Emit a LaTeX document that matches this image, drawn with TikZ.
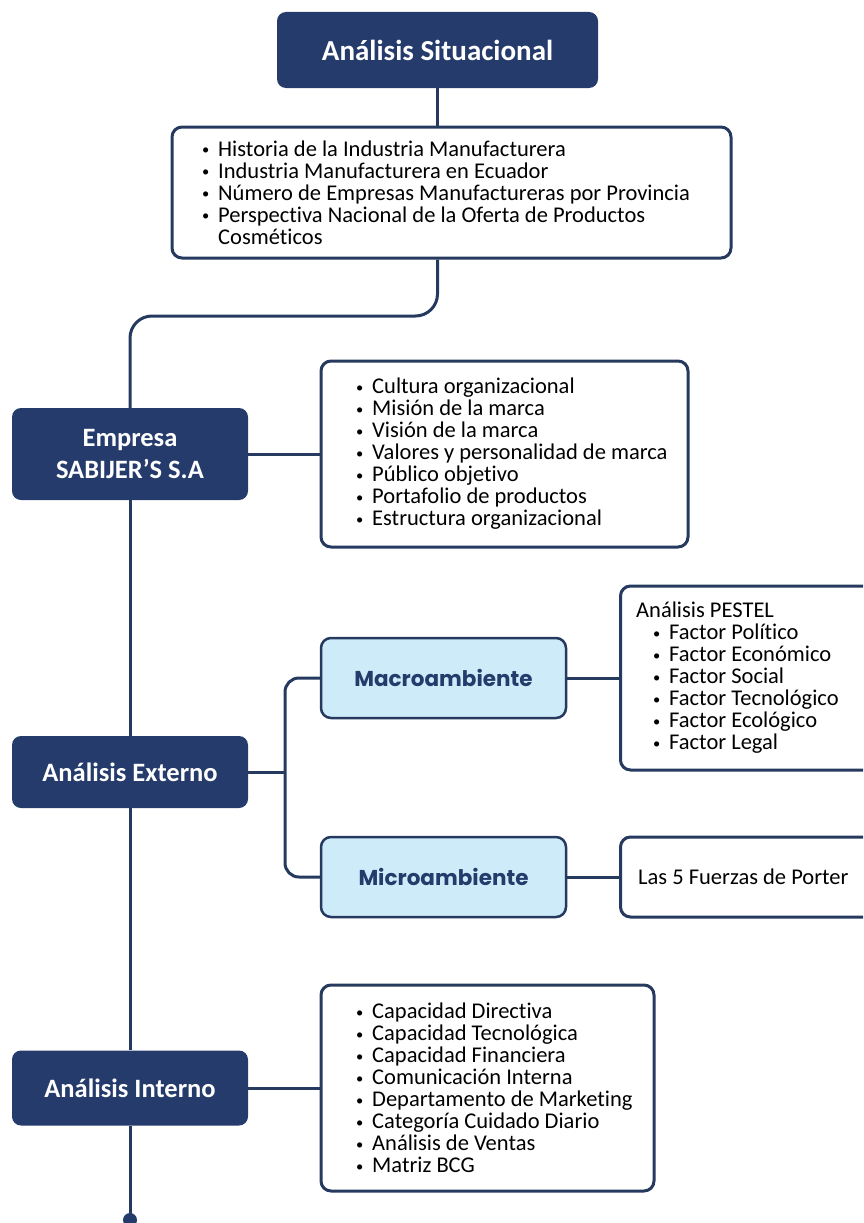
\documentclass[tikz,border=0pt]{standalone}
\usepackage{fontspec}
\setmainfont[Ligatures=NoCommon]{Carlito}
\newfontfamily\popfont{Poppins}
\usetikzlibrary{calc}
\definecolor{navy}{HTML}{243B6B}
\definecolor{navyline}{HTML}{26395F}
\definecolor{lightblue}{HTML}{CDEBF8}
\newcommand\itm{\makebox[17pt][l]{\hspace{1pt}\raisebox{1.5pt}{\fontsize{14.5}{14.5}\selectfont\textbullet}}}
\tikzset{
  darkbox/.style={draw=none, fill=navy, rounded corners=9pt, text=white, font=\bfseries\fontsize{26.5}{32}\selectfont, align=center, minimum width=236pt, inner sep=0pt},
  whitebox/.style={draw=navyline, line width=3pt, fill=white, rounded corners=10pt, inner sep=0pt},
  txt/.style={anchor=west, align=left, inner sep=0pt, font=\fontsize{22.5}{22}\selectfont},
  bluebox/.style={draw=navyline, line width=2.5pt, fill=lightblue, rounded corners=10pt, text=navy, font=\popfont\bfseries\fontsize{21.5}{24}\selectfont, minimum width=245pt, minimum height=80pt, inner sep=0pt},
  conn/.style={draw=navyline, line width=3pt}
}
\begin{document}
\begin{tikzpicture}[x=1pt,y=-1pt]
\useasboundingbox (0,0) rectangle (863,1223);
\clip (0,0) rectangle (863,1223);
% main dark nodes
\node[darkbox, minimum width=321pt, minimum height=76pt, font=\bfseries\fontsize{29}{32}\selectfont] (title) at (437.5,50) {Análisis Situacional};
\node[darkbox, minimum height=92pt] (empresa) at (130,454) {Empresa\\SABIJER’S S.A};
\node[darkbox, minimum height=72pt] (externo) at (130,772) {Análisis Externo};
\node[darkbox, minimum height=75pt] (interno) at (130,1088) {Análisis Interno};
% white boxes
\node[whitebox, minimum width=559pt, minimum height=131pt] (hist) at (451.5,192.5) {};
\node[txt] (histtxt) at (201,192.5) {%
\itm Historia de la Industria Manufacturera\\
\itm Industria Manufacturera en Ecuador\\
\itm Número de Empresas Manufactureras por Provincia\\
\itm Perspectiva Nacional de la Oferta de Productos\\
\hspace*{17pt}Cosméticos};
\node[whitebox, minimum width=367pt, minimum height=186pt] (cult) at (504.5,454) {};
\node[txt] (culttxt) at (355,454) {%
\itm Cultura organizacional\\
\itm Misión de la marca\\
\itm Visión de la marca\\
\itm Valores y personalidad de marca\\
\itm Público objetivo\\
\itm Portafolio de productos\\
\itm Estructura organizacional};
\node[whitebox, minimum width=333pt, minimum height=206pt] (capac) at (487.5,1088) {};
\node[txt] (capactxt) at (355,1088) {%
\itm Capacidad Directiva\\
\itm Capacidad Tecnológica\\
\itm Capacidad Financiera\\
\itm Comunicación Interna\\
\itm Departamento de Marketing\\
\itm Categoría Cuidado Diario\\
\itm Análisis de Ventas\\
\itm Matriz BCG};
\node[whitebox, anchor=west, minimum width=260pt, minimum height=184pt] (pestel) at (619,678) {};
\node[txt] (pesteltxt) at (636,678) {%
Análisis PESTEL\\
\hspace*{16pt}\itm Factor Político\\
\hspace*{16pt}\itm Factor Económico\\
\hspace*{16pt}\itm Factor Social\\
\hspace*{16pt}\itm Factor Tecnológico\\
\hspace*{16pt}\itm Factor Ecológico\\
\hspace*{16pt}\itm Factor Legal};
\node[whitebox, anchor=west, minimum width=260pt, minimum height=80pt] (porter) at (619,877) {};
\node[txt] (portertxt) at (638,877) {Las 5 Fuerzas de Porter};
% blue boxes
\node[bluebox] (macro) at (443.5,678) {Macroambiente};
\node[bluebox] (micro) at (443.5,877) {Microambiente};
% connectors
\coordinate (hb) at (title.south |- hist.south);
\draw[conn] (title.south) -- (title.south |- hist.north);
\draw[conn, rounded corners=22pt] (hb) -- (hb |- 0,316) -- (empresa.north |- 0,316) -- (empresa.north);
\draw[conn] (empresa.south) -- (externo.north);
\draw[conn] (externo.south) -- (interno.north);
\coordinate (endpt) at (130,1220);
\draw[conn] (interno.south) -- (endpt);
\fill[navy] (endpt) circle (7pt);
\draw[conn] (empresa.east) -- (cult.west);
\draw[conn] (interno.east) -- (capac.west);
\coordinate (J) at (285,772);
\draw[conn] (externo.east) -- (J);
\draw[conn, rounded corners=14pt] (macro.west) -| (J) |- (micro.west);
\draw[conn] (macro.east) -- (pestel.west);
\draw[conn] (micro.east) -- (porter.west);
\end{tikzpicture}
\end{document}
